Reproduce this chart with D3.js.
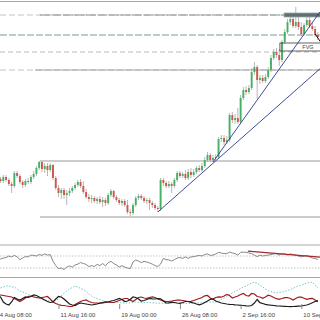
<!DOCTYPE html>
<html>
<head>
<meta charset="utf-8">
<script src="https://cdn.jsdelivr.net/npm/d3@7"></script>
<style>
  html, body { margin: 0; padding: 0; background: #fff; }
  svg { display: block; }
  text { font-family: "Liberation Sans", Arial, sans-serif; }
</style>
</head>
<body>
<div id="chart"></div>
<script>
var width = 320, height = 320;

// 8h candles, first one opens 4 Aug 08:00 (UTC). [open, high, low, close]
const firstCandle = Date.UTC(2023, 7, 4, 8);
const candles = [
  [2358,2364,2356,2361],[2361,2363,2357,2359],[2359,2365,2357,2363],[2363,2365,2358,2360],[2360,2362,2354,2356],
  [2356,2358,2347,2354],[2354,2369,2352,2367],[2367,2369,2362,2364],[2364,2366,2356,2358],[2358,2360,2352,2355],
  [2355,2361,2353,2359],[2359,2362,2356,2358],[2358,2365,2356,2363],[2363,2369,2361,2366],[2366,2374,2364,2372],
  [2372,2379,2370,2378],[2378,2379,2368,2371],[2371,2377,2367,2374],[2374,2377,2364,2370],[2370,2377,2368,2375],
  [2375,2376,2360,2362],[2362,2364,2350,2352],[2352,2355,2343,2347],[2347,2352,2341,2350],[2350,2352,2341,2345],
  [2345,2350,2335,2347],[2347,2352,2344,2349],[2349,2354,2347,2352],[2352,2357,2350,2355],[2355,2360,2353,2358],
  [2358,2361,2352,2354],[2354,2359,2346,2348],[2348,2351,2341,2343],[2343,2346,2338,2341],[2341,2345,2337,2342],
  [2342,2344,2337,2339],[2339,2343,2336,2341],[2341,2344,2336,2338],[2338,2343,2333,2340],[2340,2342,2334,2337],
  [2337,2347,2335,2345],[2345,2351,2343,2349],[2349,2350,2341,2343],[2343,2345,2338,2340],[2340,2342,2335,2337],
  [2337,2341,2334,2339],[2339,2341,2333,2335],[2335,2340,2326,2328],[2328,2331,2324,2327],[2327,2337,2325,2335],
  [2335,2344,2333,2342],[2342,2346,2340,2344],[2344,2346,2340,2342],[2342,2344,2337,2339],[2339,2342,2336,2340],
  [2340,2342,2330,2337],[2337,2339,2332,2335],[2335,2337,2330,2332],[2332,2334,2328,2331],[2331,2362,2329,2360],
  [2360,2362,2354,2357],[2357,2359,2352,2354],[2354,2359,2352,2356],[2356,2358,2347,2354],[2354,2362,2352,2360],
  [2360,2369,2358,2367],[2367,2369,2362,2364],[2364,2368,2362,2366],[2366,2370,2360,2362],[2362,2371,2360,2368],
  [2368,2372,2362,2365],[2365,2371,2363,2368],[2368,2374,2366,2372],[2372,2375,2368,2370],[2370,2377,2368,2374],
  [2374,2383,2372,2380],[2380,2388,2378,2385],[2385,2387,2378,2380],[2380,2385,2378,2382],[2382,2386,2380,2383],
  [2383,2403,2381,2401],[2401,2405,2398,2402],[2402,2405,2395,2398],[2398,2404,2396,2400],[2400,2427,2398,2425],
  [2425,2428,2417,2420],[2420,2426,2416,2422],[2422,2432,2416,2418],[2418,2445,2416,2442],[2442,2453,2440,2450],
  [2450,2454,2445,2448],[2448,2455,2446,2452],[2452,2472,2450,2468],[2468,2478,2465,2473],[2473,2475,2441,2460],
  [2460,2465,2456,2462],[2462,2465,2457,2459],[2459,2466,2457,2463],[2463,2473,2461,2470],[2470,2485,2468,2482],
  [2482,2491,2480,2488],[2488,2492,2482,2485],[2485,2491,2474,2480],[2480,2500,2478,2498],[2498,2511,2496,2508],
  [2508,2521,2506,2518],[2518,2524,2515,2521],[2521,2524,2512,2514],[2514,2533,2512,2518],[2518,2526,2510,2513],
  [2513,2518,2504,2506],[2506,2517,2504,2515],[2515,2526,2513,2520],[2520,2523,2512,2514],[2514,2518,2509,2511],
  [2511,2514,2503,2505],[2505,2508,2500,2503]
];

// indicator values, one per candle
const rsi = [62,60,63,65,70,67,72,67,58,63, 68,67,73,72,70,75,72,77,73,75,
  53,38,28,30,25,33,37,33,40,43, 48,45,42,35,38,35,42,38,45,37,
  48,52,45,40,33,38,33,30,28,50, 57,53,48,52,50,47,43,38,35,43,
  62,58,57,53,58,63,65,62,67,62, 67,68,70,72,70,75,77,72,73,77,
  82,80,78,78,83,80,78,73,82,83, 82,80,78,73,68,73,70,72,73,75,
  77,78,73,78,77,73,77,75,73,70, 67,70,72,67,63,62,58];
const rsiLevels = [70, 30];
const rsiTrendTimes = ["2023-09-03T13:00Z", "2023-09-12T06:00Z"];
const rsiTrendValues = [86, 66];

const oscBlack = [14,13,8,6,5,8,12.5,11,10,11.5, 13,12.5,13.5,15,14.5,13,11.5,10,8.5,7.5,
  8,11,13.5,13,11,8.5,6,5,4.5,6, 7,6.5,6,5.5,5,5.5,6,7,7.2,7.5,
  8,9,9.5,10.5,11.5,10.5,8.5,9,10.5,13, 12.5,11,9,9.5,10.5,11.5,11.2,11,11.5,11.2,
  9,7,7.2,7.8,7.5,7,6.7,7.5,8.5,8.5, 7.7,7,6,5.2,6,7.5,9,10.7,11,9,
  8,7,6.5,6,5.7,5.5,5.2,5,4.7,4.5, 4.2,4,4.5,7,10.5,7.3,6.5,5.7,5.2,4.8,
  4.5,4.2,4,3.8,3.7,3.5,3.3,3.5,3.7,3.9, 4,4.5,5,6,7.2,8.5,9.3];
const oscRed = [15,15,14.5,14,13.5,13,11.5,10,8.5,10, 12,13.5,14,13,12.5,12,12.5,13,13.5,11,
  8,6.5,5.5,4.7,4.5,4,3.7,3.5,5.5,7, 8.5,9.5,10,8.5,7.5,7,7,6.7,7.5,8.3,
  8,7.5,7.5,8.5,9.5,10.5,11.5,11.5,10,8.5, 10.5,12.5,13,12,11.7,12.5,13.2,12.5,11,10,
  9.2,8.5,8.7,9,9.5,9.8,10,9.5,9,8.5, 8.7,9.5,10.5,11.5,12.5,14.2,14.5,12,11,12.5,
  13.2,12.8,14,15.5,14.5,12,13,14,15.5,16.5, 14.5,14,16.5,16,13.5,13,11.7,13,14.8,14,
  12.5,11.3,10.7,11.5,12.4,12.5,11.5,10,11.5,13, 12.8,11.7,10.7,11.3,11.7,10,8.3];
const oscDotted = [21,22,23,24,24,23,23,21,19,18, 17,15.5,14.5,13.5,12.5,11.5,10.5,10,9.5,9,
  9,9.5,11,14,17,19,21,22.5,24,23, 21.5,20.5,19,16,14,12.5,11.5,10.5,9.5,8.5,
  8.2,8,7.7,7.5,7.3,7.2,7,7,7.2,7.5, 8,7.8,7.7,7.5,7.5,7.3,7.2,7,7,6.8,
  6.7,6.5,6.6,6.8,7,6.8,6.7,6.6,6.5,6.6, 6.8,6.9,7,7,7.3,7.7,8,8,8,8,
  8.5,10.5,12,13.5,15.5,17,18.5,20,21.5,23, 24,25.5,27,28,27,25,23,21,19.5,18.5,
  17.5,17,17.5,18,18.5,19.5,20.5,21.5,23,24, 25,26,27,27.5,28,25,22];

// price levels
const levelPrices = [2525, 2505, 2488, 2470];           // dashed, across the whole chart
const srPrices = [2525, 2470, 2379, 2323];              // drawn from a start time
const srStarts = ["2023-08-09T10:00Z", "2023-08-08T20:00Z", "2023-08-09T10:00Z", "2023-08-09T10:00Z"];

// trend lines [start, end]
const trendTimes = [["2023-08-23T16:00Z", "2023-09-12T12:00Z"], ["2023-08-30T08:00Z", "2023-09-12T06:00Z"]];
const trendPrices = [[2328, 2473], [2378, 2528]];
const pathTimes = ["2023-09-11T16:00Z", "2023-09-12T12:00Z"];
const pathPrices = [2506, 2496];

// zones
const zoneLabels = ["", "FVG"];
const zoneStarts = ["2023-09-07T22:00Z", "2023-09-07T10:00Z"];
const zoneLow = [2523, 2489];
const zoneHigh = [2527, 2497];

const tickDates = ["2023-08-04T08:00Z", "2023-08-11T16:00Z", "2023-08-19T00:00Z",
  "2023-08-26T08:00Z", "2023-09-02T16:00Z", "2023-09-10T00:00Z"];

// ---- scales
var x = d3.scaleUtc()
  .domain([new Date(firstCandle), new Date(Date.UTC(2023, 8, 12, 12))])
  .range([-2.2, 322]);
var y = d3.scaleLinear().domain([2300, 2540]).range([240, 0]);
var yRsi = d3.scaleLinear().domain([30, 70]).range([268, 256]);
var yOsc = d3.scaleLinear().domain([0, 30]).range([310, 280]);

var candleTime = i => d3.utcHour.offset(new Date(firstCandle), 8 * i);
var t = s => new Date(s);

var svg = d3.select("#chart").append("svg")
  .attr("width", width)
  .attr("height", height);

// panel frames
[1.5, 245, 277.5].forEach(py => {
  svg.append("line")
    .attr("x1", 0).attr("x2", width)
    .attr("y1", py).attr("y2", py)
    .attr("stroke", "#a9a9a9").attr("stroke-width", 1);
});

// dashed levels
var dashStyle = [
  { stroke: "#c4c4c4", dash: "6,3", w: 1 },
  { stroke: "#7f9c99", dash: "7,2", w: 1.1 },
  { stroke: "#bcbcbc", dash: "5,3", w: 1 },
  { stroke: "#c4c4c4", dash: "6,3", w: 1 }
];
svg.append("g").selectAll("line")
  .data(levelPrices)
  .enter().append("line")
  .attr("x1", 0).attr("x2", width)
  .attr("y1", d => y(d)).attr("y2", d => y(d))
  .attr("stroke", (d, i) => dashStyle[i].stroke)
  .attr("stroke-width", (d, i) => dashStyle[i].w)
  .attr("stroke-dasharray", (d, i) => dashStyle[i].dash);

// support / resistance lines
var srStyle = [
  { stroke: "#859090", dash: "10,1.5", w: 1.2 },
  { stroke: "#a2a2a2", dash: null, w: 1 },
  { stroke: "#9a9a9a", dash: null, w: 1.2 },
  { stroke: "#9a9a9a", dash: null, w: 1.2 }
];
svg.append("g").selectAll("line")
  .data(srPrices)
  .enter().append("line")
  .attr("x1", (d, i) => x(t(srStarts[i]))).attr("x2", width)
  .attr("y1", d => y(d)).attr("y2", d => y(d))
  .attr("stroke", (d, i) => srStyle[i].stroke)
  .attr("stroke-width", (d, i) => srStyle[i].w)
  .attr("stroke-dasharray", (d, i) => srStyle[i].dash);

// candles
var up = "#46b062", down = "#d0564b", wick = "#a5a5a5";
var cg = svg.append("g").selectAll("g.candle")
  .data(candles)
  .enter().append("g").attr("class", "candle");

cg.append("line")
  .attr("x1", (d, i) => x(candleTime(i))).attr("x2", (d, i) => x(candleTime(i)))
  .attr("y1", d => y(d[1])).attr("y2", d => y(d[2]))
  .attr("stroke", wick).attr("stroke-width", 0.8);

cg.append("rect")
  .attr("x", (d, i) => x(candleTime(i)) - 0.95)
  .attr("width", 1.9)
  .attr("y", d => y(Math.max(d[0], d[3])))
  .attr("height", d => Math.max(0.8, Math.abs(y(d[0]) - y(d[3]))))
  .attr("fill", d => d[3] >= d[0] ? up : down);

// zones
svg.append("g").selectAll("rect")
  .data(zoneStarts)
  .enter().append("rect")
  .attr("x", d => x(t(d)))
  .attr("width", d => width - x(t(d)) + 2)
  .attr("y", (d, i) => y(zoneHigh[i]))
  .attr("height", (d, i) => y(zoneLow[i]) - y(zoneHigh[i]))
  .attr("fill", (d, i) => i == 0 ? "#5e7171" : "none")
  .attr("stroke", (d, i) => i == 0 ? "#98a6a6" : "#3a3a3a")
  .attr("stroke-width", 0.8);

svg.append("g").selectAll("text")
  .data(zoneLabels)
  .enter().append("text")
  .attr("x", (d, i) => (x(t(zoneStarts[i])) + width) / 2 + 8)
  .attr("y", (d, i) => y((zoneLow[i] + zoneHigh[i]) / 2) + 2)
  .attr("text-anchor", "middle")
  .attr("font-size", 5.5)
  .attr("fill", "#444")
  .text(d => d);

// trend lines
svg.append("g").selectAll("line")
  .data(trendTimes)
  .enter().append("line")
  .attr("x1", d => x(t(d[0]))).attr("x2", d => x(t(d[1])))
  .attr("y1", (d, i) => y(trendPrices[i][0])).attr("y2", (d, i) => y(trendPrices[i][1]))
  .attr("stroke", "#2a3a8c").attr("stroke-width", 0.9);

svg.append("line")
  .attr("x1", x(t(pathTimes[0]))).attr("x2", x(t(pathTimes[1])))
  .attr("y1", y(pathPrices[0])).attr("y2", y(pathPrices[1]))
  .attr("stroke", "#111").attr("stroke-width", 1);

// RSI panel
svg.append("g").selectAll("line")
  .data(rsiLevels)
  .enter().append("line")
  .attr("x1", 0).attr("x2", width)
  .attr("y1", d => yRsi(d)).attr("y2", d => yRsi(d))
  .attr("stroke", "#b8b8b8").attr("stroke-width", 0.8)
  .attr("stroke-dasharray", "1.5,1.5");

svg.append("path")
  .datum(rsi)
  .attr("fill", "none")
  .attr("stroke", "#7b7b7b").attr("stroke-width", 0.9)
  .attr("d", d3.line().x((d, i) => x(candleTime(i))).y(d => yRsi(d)));

svg.append("line")
  .attr("x1", x(t(rsiTrendTimes[0]))).attr("x2", x(t(rsiTrendTimes[1])))
  .attr("y1", yRsi(rsiTrendValues[0])).attr("y2", yRsi(rsiTrendValues[1]))
  .attr("stroke", "#a52a2e").attr("stroke-width", 1.2);

// lower oscillator panel
var oscLine = d3.line().x((d, i) => x(candleTime(i))).y(d => yOsc(d));
svg.append("path").datum(oscDotted)
  .attr("fill", "none").attr("stroke", "#7cc6c6").attr("stroke-width", 1)
  .attr("stroke-dasharray", "1.5,1.5")
  .attr("d", oscLine);
svg.append("path").datum(oscRed)
  .attr("fill", "none").attr("stroke", "#a3191c").attr("stroke-width", 1.2)
  .attr("d", oscLine);
svg.append("path").datum(oscBlack)
  .attr("fill", "none").attr("stroke", "#1c1c1c").attr("stroke-width", 1.2)
  .attr("d", oscLine);

// time axis
var axis = d3.axisBottom(x)
  .tickValues(tickDates.map(t))
  .tickFormat(d3.utcFormat("%-d %b %H:%M"))
  .tickSize(5)
  .tickPadding(0);

var ax = svg.append("g")
  .attr("transform", "translate(0,304)")
  .call(axis);
ax.select(".domain").remove();
ax.selectAll(".tick line").attr("stroke", "#888");
ax.selectAll(".tick text")
  .attr("text-anchor", "start")
  .attr("x", 1.5).attr("y", 12.5).attr("dy", 0)
  .attr("font-size", 6)
  .attr("font-family", "'Liberation Sans', Arial, sans-serif")
  .attr("fill", "#444");
</script>
</body>
</html>
